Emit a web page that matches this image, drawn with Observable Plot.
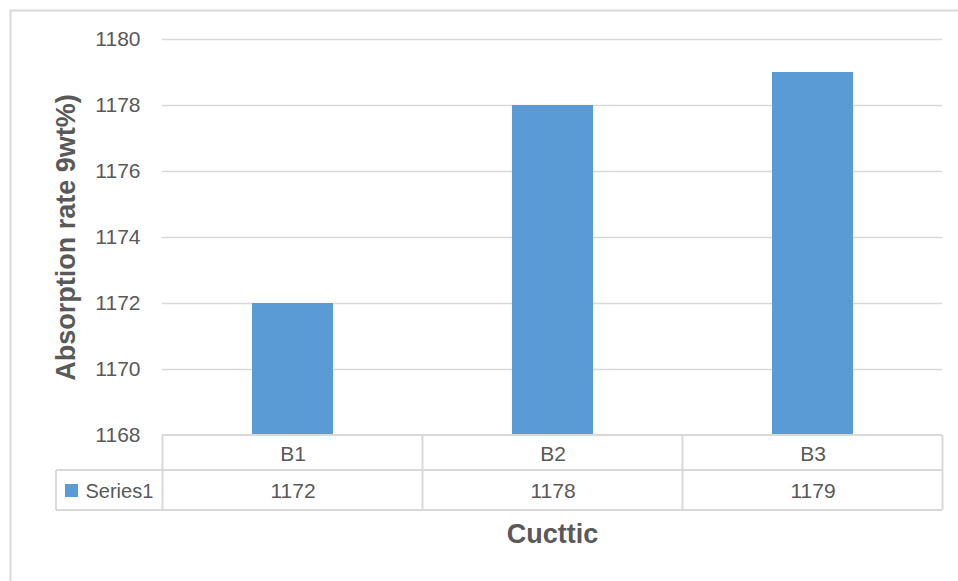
<!DOCTYPE html>
<html>
<head>
<meta charset="utf-8">
<script src="https://cdn.jsdelivr.net/npm/d3@7"></script>
<script src="https://cdn.jsdelivr.net/npm/@observablehq/plot@0.6"></script>
<style>
  html, body { margin: 0; padding: 0; background: #fff; }
  svg { display: block; }
</style>
</head>
<body>
<div id="chart"></div>
<script>
// Absorption rate per sample, with an Excel-style data table under the axis
const categories = ["B1", "B2", "B3"];
const values = [1172, 1178, 1179];
const seriesName = "Series1";
const yTicks = [1168, 1170, 1172, 1174, 1176, 1178, 1180];
const xTitle = "Cucttic";
const yTitle = "Absorption rate 9wt%)";

const rows = categories.map((c, i) => ({category: c, value: values[i]}));

const font = "'Liberation Sans', Arial, sans-serif";
const grey = "#595959";
const lineGrey = "#d9d9d9";
const barBlue = "#5b9bd5";

const plot = Plot.plot({
  width: 958,
  height: 581,
  marginTop: 39,
  marginBottom: 146,
  marginLeft: 162,
  marginRight: 16,
  style: {fontFamily: font, fontSize: "21px", color: grey, background: "#fff", overflow: "visible"},
  x: {domain: categories, paddingInner: 0.69, paddingOuter: 0.345, axis: null},
  y: {domain: [1168, 1180], ticks: yTicks, axis: null},
  marks: [
    Plot.gridY(yTicks.slice(1), {stroke: lineGrey, strokeOpacity: 1, strokeWidth: 1.5}),
    Plot.axisY(yTicks, {tickSize: 0, tickPadding: 22, tickFormat: d3.format("d"), fontSize: 21, fill: grey, label: null}),
    Plot.barY(rows, {x: "category", y1: 1168, y2: "value", fill: barBlue}),
    // category row of the data table
    Plot.text(rows, {x: "category", text: "category", frameAnchor: "bottom", lineAnchor: "middle", dy: 19, fill: grey, fontSize: 21}),
    // value row of the data table
    Plot.text(rows, {x: "category", text: d => String(d.value), frameAnchor: "bottom", lineAnchor: "middle", dy: 56, fill: grey, fontSize: 21}),
    // series label in the table's first column
    Plot.text([seriesName], {frameAnchor: "bottom-left", lineAnchor: "middle", dx: -77, dy: 56, textAnchor: "start", fill: grey, fontSize: 20}),
    // axis titles
    Plot.text([xTitle], {frameAnchor: "bottom", lineAnchor: "middle", dy: 99, fill: grey, fontSize: 27, fontWeight: "bold"}),
    Plot.text([yTitle], {frameAnchor: "left", textAnchor: "middle", lineAnchor: "middle", dx: -96, rotate: -90, fill: grey, fontSize: 27, fontWeight: "bold"})
  ]
});

// Data table grid and chart border, placed from the plot's own x scale
const svg = d3.select(plot);
const xs = plot.scale("x");
const step = xs.step;
const tableLeft = 162, tableRight = 958 - 16;
const tableTop = 581 - 146;           // table starts at the x baseline
const rowH1 = 35, rowH2 = 40;
const keyLeft = 56;

const g = svg.append("g").attr("fill", "none").attr("stroke", lineGrey).attr("stroke-width", 2);
// horizontal lines
g.append("line").attr("x1", tableLeft).attr("x2", tableRight).attr("y1", tableTop).attr("y2", tableTop);
g.append("line").attr("x1", keyLeft).attr("x2", tableRight).attr("y1", tableTop + rowH1).attr("y2", tableTop + rowH1);
g.append("line").attr("x1", keyLeft).attr("x2", tableRight).attr("y1", tableTop + rowH1 + rowH2).attr("y2", tableTop + rowH1 + rowH2);
// vertical lines at category boundaries
const edges = categories.map(c => xs.apply(c) + xs.bandwidth / 2 - step / 2);
edges.push(xs.apply(categories[categories.length - 1]) + xs.bandwidth / 2 + step / 2);
edges.forEach(x => g.append("line").attr("x1", x).attr("x2", x).attr("y1", tableTop).attr("y2", tableTop + rowH1 + rowH2));
g.append("line").attr("x1", keyLeft).attr("x2", keyLeft).attr("y1", tableTop + rowH1).attr("y2", tableTop + rowH1 + rowH2);

// legend key square for the series
svg.append("rect").attr("x", 65).attr("y", 484).attr("width", 13).attr("height", 13).attr("fill", barBlue);

// outer chart border
svg.append("rect").attr("x", 10.5).attr("y", 10.5).attr("width", 980).attr("height", 600)
  .attr("fill", "none").attr("stroke", lineGrey).attr("stroke-width", 2);

document.getElementById("chart").appendChild(plot);
</script>
</body>
</html>
